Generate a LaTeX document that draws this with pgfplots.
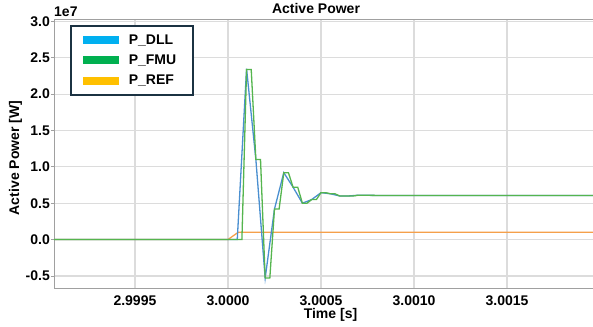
\documentclass[border=0pt]{standalone}
\usepackage{pgfplots}
\pgfplotsset{compat=1.18}
\usepackage{fontspec}
\setmainfont{Liberation Sans}
\definecolor{dllline}{HTML}{4A8FD0}
\definecolor{fmuline}{HTML}{55B54E}
\definecolor{refline}{HTML}{F5A04A}
\definecolor{dllpatch}{HTML}{00B0F0}
\definecolor{fmupatch}{HTML}{00B050}
\definecolor{refpatch}{HTML}{FFC000}
\definecolor{legborder}{HTML}{1B3242}
\definecolor{gridc}{HTML}{DCDCDC}
\definecolor{axc}{HTML}{A0A0A0}
% time axis: microseconds relative to t = 3.0 s (keeps full precision)
\pgfplotstableread{
t P
-935 0
50 0
100 23500000
150 11000000
200 -5300000
250 4200000
300 9200000
350 7200000
400 5000000
450 5500000
500 6450000
550 6300000
600 6000000
650 6000000
700 6100000
800 6070000
1962 6070000
}\dll
\pgfplotstableread{
t P
-935 0
75 0
100 23400000
125 23400000
150 11000000
175 11000000
200 -5300000
225 -5300000
250 4200000
275 4200000
300 9200000
325 9200000
350 7200000
375 7200000
400 5000000
425 5000000
450 5500000
475 5500000
500 6450000
525 6450000
550 6300000
575 6300000
600 6000000
625 6000000
650 6000000
675 6000000
700 6100000
725 6100000
800 6070000
1962 6070000
}\fmu
\pgfplotstableread{
t P
-935 0
0 0
55 1000000
1962 1000000
}\pref
\begin{document}
\begin{tikzpicture}[font=\fontsize{14}{16}\selectfont\bfseries]
\begin{axis}[
  name=ax,
  at={(54pt,37pt)}, anchor=south west,
  scale only axis, width=539pt, height=269pt,
  xmin=-935, xmax=1962, ymin=-6800000, ymax=30200000,
  axis x line*=box, axis y line*=left,
  axis line style={axc, line width=1pt},
  grid=major, major grid style={gridc, line width=1.2pt},
  xtick={-500,0,500,1000,1500},
  xticklabels={2.9995,3.0000,3.0005,3.0010,3.0015},
  ytick={-5000000,0,5000000,10000000,15000000,20000000,25000000,30000000},
  yticklabels={-0.5,0.0,0.5,1.0,1.5,2.0,2.5,3.0},
  scaled y ticks=false, scaled x ticks=false,
  tick align=outside, major tick length=3pt,
  xtick style={draw=none}, ytick style={axc, line width=0.8pt},
  ytick pos=left,
  ticklabel style={font=\fontsize{14}{16}\selectfont\bfseries},
  yticklabel style={inner xsep=1pt},
  xticklabel style={inner ysep=3.5pt},
  title={Active Power},
  title style={at={(axis description cs:0.5,1)}, anchor=base, yshift=0.7pt, xshift=-7.5pt, font=\fontsize{14}{16}\selectfont\bfseries},
  xlabel={Time [s]},
  xlabel style={at={(axis description cs:0.5,0)}, anchor=base, yshift=-29pt, xshift=7pt, font=\fontsize{14}{16}\selectfont\bfseries},
  ylabel={Active Power [W]},
  every axis y label/.style={at={([xshift=-38.5pt,yshift=-3.5pt]axis description cs:0,0.5)}, rotate=90, anchor=center, font=\fontsize{14}{16}\selectfont\bfseries},
  legend style={at={(rel axis cs:0,1)}, anchor=north west, xshift=16pt, yshift=-5pt,
    draw=legborder, line width=1.6pt, fill=white, inner xsep=12pt, inner ysep=7pt,
    row sep=5pt, font=\fontsize{14}{16}\selectfont\bfseries,
    /tikz/every odd column/.append style={column sep=8pt}},
  legend cell align=left,
  legend image code/.code={\fill[#1] (0pt,-4pt) rectangle (36pt,4pt);},
]
\addlegendimage{fill=dllpatch, draw=none}
\addlegendentry{\makebox[50pt][l]{P\_DLL}}
\addlegendimage{fill=fmupatch, draw=none}
\addlegendentry{\makebox[50pt][l]{P\_FMU}}
\addlegendimage{fill=refpatch, draw=none}
\addlegendentry{\makebox[50pt][l]{P\_REF}}
\addplot[refline, line width=1.3pt, forget plot] table[x=t, y=P] {\pref};
\addplot[dllline, line width=1.3pt, forget plot] table[x=t, y=P] {\dll};
\addplot[fmuline, line width=1.3pt, forget plot] table[x=t, y=P] {\fmu};
\end{axis}
\node[anchor=base west, inner sep=0pt, font=\fontsize{14}{16}\selectfont\bfseries] at ([yshift=3.3pt]ax.north west) {1e7};
\pgfresetboundingbox
\useasboundingbox (0,0) rectangle (593pt,326pt);
\end{tikzpicture}
\end{document}
